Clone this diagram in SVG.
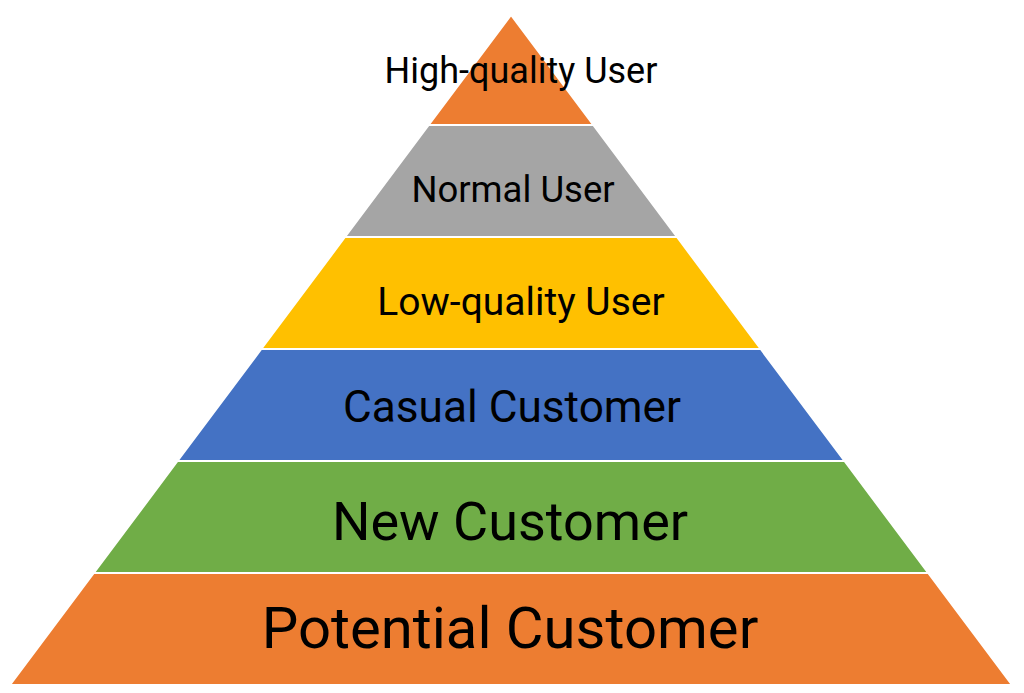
<svg xmlns="http://www.w3.org/2000/svg" width="1024" height="693" viewBox="0 0 1024 693">
<style>
.layer{stroke:#ffffff;stroke-width:2;stroke-linejoin:miter}
.lbl{font-family:Roboto,"Noto Sans",sans-serif;fill:#000000;text-anchor:middle}
</style>
<rect x="0" y="0" width="1024" height="693" fill="#ffffff"/>
<g id="layer-high-quality-user">
<polygon class="layer" fill="#ED7D31" points="511,15 593.3,125 428.7,125"/>
<text class="lbl" x="521" y="83" font-size="36">High-quality User</text>
</g>
<g id="layer-normal-user">
<polygon class="layer" fill="#A5A5A5" points="428.7,125 593.3,125 677,237 345,237"/>
<text class="lbl" x="513" y="202" font-size="36.5">Normal User</text>
</g>
<g id="layer-low-quality-user">
<polygon class="layer" fill="#FFC000" points="345,237 677,237 760.7,349 261.3,349"/>
<text class="lbl" x="521" y="315" font-size="39">Low-quality User</text>
</g>
<g id="layer-casual-customer">
<polygon class="layer" fill="#4472C4" points="261.3,349 760.7,349 844.5,461 177.5,461"/>
<text class="lbl" x="512" y="422" font-size="44.2">Casual Customer</text>
</g>
<g id="layer-new-customer">
<polygon class="layer" fill="#70AD47" points="177.5,461 844.5,461 928.2,573 93.8,573"/>
<text class="lbl" x="510" y="540" font-size="54">New Customer</text>
</g>
<g id="layer-potential-customer">
<polygon class="layer" fill="#ED7D31" points="93.8,573 928.2,573 1012,685 10,685"/>
<text class="lbl" x="510" y="648" font-size="58">Potential Customer</text>
</g>
<g id="connectors"></g>
</svg>
